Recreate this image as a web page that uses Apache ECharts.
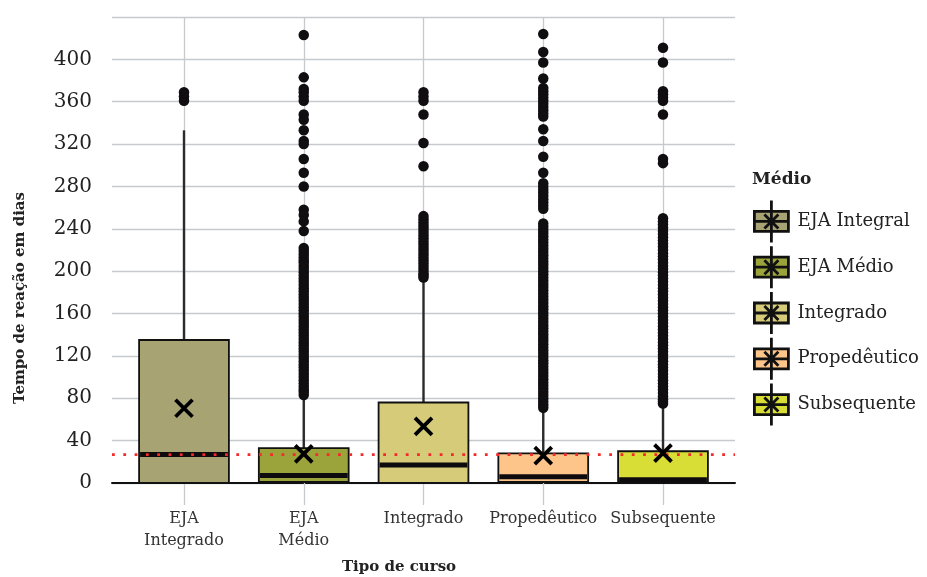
<!DOCTYPE html>
<html>
<head>
<meta charset="utf-8">
<script src="https://cdn.jsdelivr.net/npm/echarts@6/dist/echarts.min.js"></script>
<style>
html, body { margin: 0; background: #fff; }
#chart { width: 927px; height: 577px; }
</style>
</head>
<body>
<div id="chart"></div>
<script>
// categories on the x axis and the names used in the legend
var categories = ['EJA\nIntegrado', 'EJA\nMédio', 'Integrado', 'Propedêutico', 'Subsequente'];
var legendNames = ['EJA Integral', 'EJA Médio', 'Integrado', 'Propedêutico', 'Subsequente'];
var colors = ['#a8a373', '#9aa43a', '#d5cb78', '#fdc58a', '#d8de36'];

// [whisker low, Q1, median, Q3, whisker high]
var boxStats = [
  [0, 0, 27, 135, 333],
  [0, 1, 7, 33, 81],
  [0, 0, 17, 76, 190],
  [0, 1, 6, 28, 68],
  [0, 0, 3, 30, 74]
];
var means = [70.6, 27.5, 53.4, 25.8, 28.2];
var refLine = 26.8;

var outEJAIntegrado = [361, 365, 369];
var outEJAMedio = [423, 383, 372, 369, 365, 361, 348, 343, 333, 323, 320, 306, 293, 280, 258, 253, 247, 238,
  222, 219, 216, 213, 210, 208, 205, 202, 199, 196, 193, 190, 187, 184, 181, 178, 175, 172, 169, 166, 163,
  160, 157, 154, 151, 148, 145, 142, 139, 136, 133, 130, 127, 124, 121, 118, 115, 112, 109, 106, 103, 100,
  97, 94, 91, 88, 86, 83];
var outIntegrado = [369, 365, 361, 348, 321, 299,
  252, 249, 246, 243, 240, 237, 234, 231, 228, 225, 222, 219, 216, 213, 210, 207, 204, 201, 198, 196, 194];
var outPropedeutico = [424, 407, 397, 382, 373, 370, 367, 364, 361, 358, 355, 352, 349, 346, 334, 323, 308, 293,
  283, 280, 277, 274, 271, 268, 265, 262, 259,
  245, 242, 239, 236, 233, 230, 227, 224, 221, 218, 215, 212, 209, 206, 203, 200, 197, 194, 191, 188, 185,
  182, 179, 176, 173, 170, 167, 164, 161, 158, 155, 152, 149, 146, 143, 140, 137, 134, 131, 128, 125, 122,
  119, 116, 113, 110, 107, 104, 101, 98, 95, 92, 89, 86, 83, 80, 77, 74, 71];
var outSubsequente = [411, 397, 370, 367, 364, 361, 348, 306, 302,
  250, 247, 244, 241, 238, 235, 232, 229, 226, 223, 220, 217, 214, 211, 208, 205, 202, 199, 196, 193, 190,
  187, 184, 181, 178, 175, 172, 169, 166, 163, 160, 157, 154, 151, 148, 145, 142, 139, 136, 133, 130, 127,
  124, 121, 118, 115, 112, 109, 106, 103, 100, 97, 94, 91, 88, 85, 82, 79, 77, 75];
var outliers = [outEJAIntegrado, outEJAMedio, outIntegrado, outPropedeutico, outSubsequente];

var FONT = 'DejaVu Serif';
var GRID_GRAY = '#c7cacd';

var outlierData = [];
outliers.forEach(function (list, i) {
  list.forEach(function (v) { outlierData.push([i, v]); });
});

function boxSeries(i) {
  return {
    name: legendNames[i],
    type: 'custom',
    xAxisIndex: 1,
    yAxisIndex: 1,
    z: 2,
    data: [[i].concat(boxStats[i])],
    renderItem: function (params, api) {
      var x = api.value(0);
      var lo = api.coord([x, api.value(1)]);
      var q1 = api.coord([x, api.value(2)]);
      var med = api.coord([x, api.value(3)]);
      var q3 = api.coord([x, api.value(4)]);
      var hi = api.coord([x, api.value(5)]);
      var band = api.coord([1, 0])[0] - api.coord([0, 0])[0];
      var half = band * 0.375;
      return {
        type: 'group',
        children: [
          { type: 'line', shape: { x1: hi[0], y1: hi[1], x2: q3[0], y2: q3[1] },
            style: { stroke: '#2b2b2b', lineWidth: 2.4 } },
          { type: 'line', shape: { x1: lo[0], y1: lo[1], x2: q1[0], y2: q1[1] },
            style: { stroke: '#2b2b2b', lineWidth: 2.4 } },
          { type: 'rect', shape: { x: q3[0] - half, y: q3[1], width: half * 2, height: q1[1] - q3[1] },
            style: { fill: colors[i], stroke: '#111', lineWidth: 1.8 } },
          { type: 'line', shape: { x1: med[0] - half + 1, y1: med[1], x2: med[0] + half - 1, y2: med[1] },
            style: { stroke: '#0d0b0e', lineWidth: 5 } }
        ]
      };
    }
  };
}

var legendIcon = 'path://M1 11H35V31H1Z M1 21H35 M18 0V11 M18 31V42 M18 11V31 M11 14L25 28 M25 14L11 28';

var series = [0, 1, 2, 3, 4].map(boxSeries);
series.push({
  name: 'outliers',
  type: 'scatter',
  xAxisIndex: 1,
  yAxisIndex: 1,
  z: 3,
  symbolSize: 10.5,
  itemStyle: { color: '#110e12', opacity: 1 },
  data: outlierData
});
series.push({
  name: 'referencia',
  type: 'line',
  xAxisIndex: 0,
  yAxisIndex: 0,
  z: 4,
  showSymbol: false,
  silent: true,
  lineStyle: { color: '#f42a2a', width: 2.8, type: [2.8, 8.5] },
  data: [[0, refLine], [1, refLine]]
});
series.push({
  name: 'media',
  type: 'scatter',
  xAxisIndex: 1,
  yAxisIndex: 1,
  z: 5,
  symbol: 'path://M0 0L10 10M10 0L0 10',
  symbolSize: 17,
  itemStyle: { color: 'rgba(0,0,0,0)', borderColor: '#000', borderWidth: 3.8, opacity: 1 },
  data: means.map(function (m, i) { return [i, m]; })
});

var myChart = echarts.init(document.getElementById('chart'));
var option = {
  backgroundColor: '#fff',
  animation: false,
  grid: [
    { left: 112, right: 192, top: 17, bottom: 94 },
    { left: 184, right: 264, top: 17, bottom: 94 }
  ],
  xAxis: [
    {
      type: 'value', gridIndex: 0, min: 0, max: 1,
      axisLine: { show: true, lineStyle: { color: '#111', width: 2 } },
      axisTick: { show: false }, axisLabel: { show: false }, splitLine: { show: false }
    },
    {
      type: 'category', gridIndex: 1, data: categories, boundaryGap: false,
      axisLine: { show: false },
      axisTick: { show: true, alignWithLabel: true, length: 22, lineStyle: { color: GRID_GRAY, width: 1.3 } },
      splitLine: { show: true, lineStyle: { color: GRID_GRAY, width: 1.3 } },
      axisLabel: { interval: 0, fontFamily: FONT, fontSize: 16, lineHeight: 22, color: '#333', margin: 25 }
    }
  ],
  yAxis: [
    {
      type: 'value', gridIndex: 0, min: 0, max: 440, interval: 40,
      axisLine: { show: false }, axisTick: { show: false },
      splitLine: { lineStyle: { color: GRID_GRAY, width: 1.3 } },
      axisLabel: {
        fontFamily: FONT, fontSize: 20, color: '#222', margin: 20,
        formatter: function (v) { return v === 440 ? '' : v; }
      }
    },
    { type: 'value', gridIndex: 1, min: 0, max: 440, show: false }
  ],
  legend: {
    orient: 'vertical',
    left: 753,
    top: 199,
    padding: 0,
    itemWidth: 36,
    itemHeight: 42,
    itemGap: 1,
    selectedMode: false,
    icon: legendIcon,
    textStyle: { fontFamily: FONT, fontSize: 18, color: '#222', padding: [0, 0, 0, 3] },
    data: legendNames.map(function (n, i) {
      return { name: n, itemStyle: { color: colors[i], borderColor: '#111', borderWidth: 2.8 } };
    })
  },
  graphic: [
    { type: 'text', left: 752, top: 171,
      style: { text: 'Médio', font: 'bold 17px "DejaVu Serif"', fill: '#222' } },
    { type: 'text', x: 399, y: 567,
      style: { text: 'Tipo de curso', font: 'bold 15px "DejaVu Serif"', fill: '#222', align: 'center', verticalAlign: 'middle' } },
    { type: 'text', x: 20, y: 298, rotation: Math.PI / 2,
      style: { text: 'Tempo de reação em dias', font: 'bold 15px "DejaVu Serif"', fill: '#222', align: 'center', verticalAlign: 'middle' } }
  ],
  series: series
};

myChart.setOption(option);
</script>
</body>
</html>
